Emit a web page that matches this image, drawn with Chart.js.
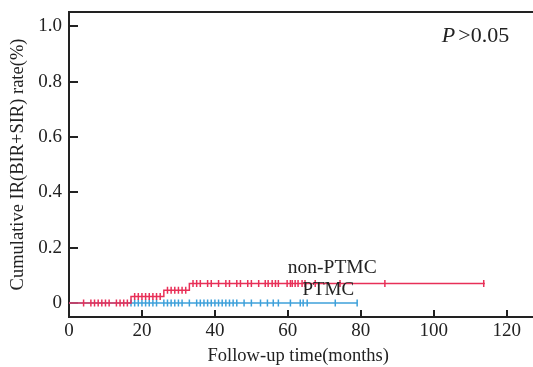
<!DOCTYPE html>
<html>
<head>
<meta charset="utf-8">
<script src="https://cdn.jsdelivr.net/npm/chart.js@4/dist/chart.umd.min.js"></script>
<style>
  html, body { margin: 0; padding: 0; background: #fff; overflow: hidden; }
  #wrap { width: 533px; height: 367px; }
  canvas { display: block; }
</style>
</head>
<body>
<div id="wrap"><canvas id="kmChart" width="533" height="367"></canvas></div>
<script>
// Curva de Kaplan-Meier: momentos de evento (meses) y tasa acumulada
const nonPtmcSteps = [0, 17, 26, 33, 114];
const nonPtmcRates = [0, 0.023, 0.046, 0.07, 0.07];
const ptmcSteps = [0, 79];
const ptmcRates = [0, 0];

// Censuras (meses)
const nonPtmcCensored = [4, 6, 7, 8, 9, 10, 11, 13, 14, 15, 16,
  18, 19, 20, 21, 22, 23, 24, 25,
  27, 28, 29, 30, 31, 32,
  34, 35, 36, 38, 39, 41, 43, 44, 46, 47, 49, 50, 52, 53.8, 54.6, 55.7, 56.6, 57.4,
  59.8, 60.7, 61.2, 62, 62.8, 63.9, 64.7, 67.5, 74.3, 86.6, 113.7];
const ptmcCensored = [17, 18, 19, 20, 21, 22, 23, 24, 26, 27, 28, 29, 30, 31, 33,
  35, 36, 37, 38, 39, 40, 41, 42, 43, 44, 45, 46, 48, 50, 52.5, 54.4, 56, 57.4,
  60.7, 63.4, 64.2, 65.3, 73, 79];

const xTicks = [0, 20, 40, 60, 80, 100, 120];
const yTicks = [0, 0.2, 0.4, 0.6, 0.8, 1.0];

const rojo = 'rgb(232, 48, 88)';
const azul = 'rgb(62, 160, 218)';

// valor de la curva en un tiempo dado (lectura de la escalera)
function valorEn(steps, rates, t) {
  let v = rates[0];
  steps.forEach((s, i) => { if (s <= t) v = rates[i]; });
  return v;
}

const curvaNon = nonPtmcSteps.map((s, i) => ({ x: s, y: nonPtmcRates[i] }));
const curvaPtmc = ptmcSteps.map((s, i) => ({ x: s, y: ptmcRates[i] }));
const marcasNon = nonPtmcCensored.map(t => ({ x: t, y: valorEn(nonPtmcSteps, nonPtmcRates, t) }));
const marcasPtmc = ptmcCensored.map(t => ({ x: t, y: valorEn(ptmcSteps, ptmcRates, t) }));

const serif = '"Liberation Serif", "DejaVu Serif", serif';

// Textos, borde superior y prolongación de los ejes hasta el borde del lienzo
const extras = {
  id: 'extras',
  afterDraw(chart) {
    const { ctx, chartArea, scales } = chart;
    ctx.save();
    ctx.strokeStyle = '#222';
    ctx.lineWidth = 2;
    ctx.beginPath();
    ctx.moveTo(chartArea.left - 1, chartArea.top);
    ctx.lineTo(chart.width, chartArea.top);
    ctx.moveTo(chartArea.right - 1, chartArea.bottom);
    ctx.lineTo(chart.width, chartArea.bottom);
    ctx.stroke();

    ctx.fillStyle = '#222';
    ctx.textBaseline = 'middle';
    ctx.textAlign = 'left';
    ctx.font = '19.5px ' + serif;
    ctx.fillText('non-PTMC', scales.x.getPixelForValue(60), scales.y.getPixelForValue(0.125));
    ctx.font = '19px ' + serif;
    ctx.fillText('PTMC', scales.x.getPixelForValue(64), scales.y.getPixelForValue(0.045));

    const px = scales.x.getPixelForValue(102.2);
    const py = scales.y.getPixelForValue(0.965);
    ctx.font = 'italic 22px ' + serif;
    ctx.fillText('P', px, py);
    const w = ctx.measureText('P').width;
    ctx.font = '22px ' + serif;
    ctx.fillText('>0.05', px + w + 3, py);
    ctx.restore();
  }
};

new Chart(document.getElementById('kmChart').getContext('2d'), {
  type: 'scatter',
  data: {
    datasets: [
      { data: curvaNon, showLine: true, stepped: 'before', borderColor: rojo, borderWidth: 1.5, pointRadius: 0, order: 0 },
      { data: marcasNon, showLine: false, pointStyle: 'line', rotation: 90, pointRadius: 3.5, borderColor: rojo, borderWidth: 1.5, order: 0 },
      { data: curvaPtmc, showLine: true, stepped: 'before', borderColor: azul, borderWidth: 1.5, pointRadius: 0, order: 1 },
      { data: marcasPtmc, showLine: false, pointStyle: 'line', rotation: 90, pointRadius: 3.5, borderColor: azul, borderWidth: 1.5, order: 1 }
    ]
  },
  options: {
    responsive: false,
    animation: false,
    layout: { padding: { top: 12, right: 0, left: 0, bottom: 0 } },
    plugins: { legend: { display: false }, tooltip: { enabled: false } },
    scales: {
      x: {
        type: 'linear',
        min: 0,
        max: 125.7,
        afterBuildTicks: s => { s.ticks = xTicks.map(v => ({ value: v })); },
        afterFit: s => { s.height = 50; s.paddingLeft = 0; s.paddingRight = 0; },
        border: { color: '#222', width: 2 },
        grid: { drawOnChartArea: false, drawTicks: true, tickLength: -7, color: '#222', lineWidth: 2 },
        ticks: { color: '#222', padding: 10, maxRotation: 0, font: { family: serif, size: 19 } },
        title: { display: true, text: 'Follow-up time(months)', color: '#222', padding: { top: 0, bottom: 0 }, font: { family: serif, size: 18.5 } }
      },
      y: {
        type: 'linear',
        min: -0.051,
        max: 1.052,
        afterBuildTicks: s => { s.ticks = yTicks.map(v => ({ value: v })); },
        afterFit: s => { s.width = 69; s.paddingTop = 0; s.paddingBottom = 0; },
        border: { color: '#222', width: 2 },
        grid: { drawOnChartArea: false, drawTicks: true, tickLength: -9, color: '#222', lineWidth: 2 },
        ticks: {
          color: '#222', padding: 16,
          font: { family: serif, size: 19 },
          callback: v => (v === 0 ? '0' : v.toFixed(1))
        },
        title: { display: true, text: 'Cumulative IR(BIR+SIR) rate(%)', color: '#222', padding: { top: 7, bottom: 0 }, font: { family: serif, size: 18.5 } }
      }
    }
  },
  plugins: [extras]
});
</script>
</body>
</html>
